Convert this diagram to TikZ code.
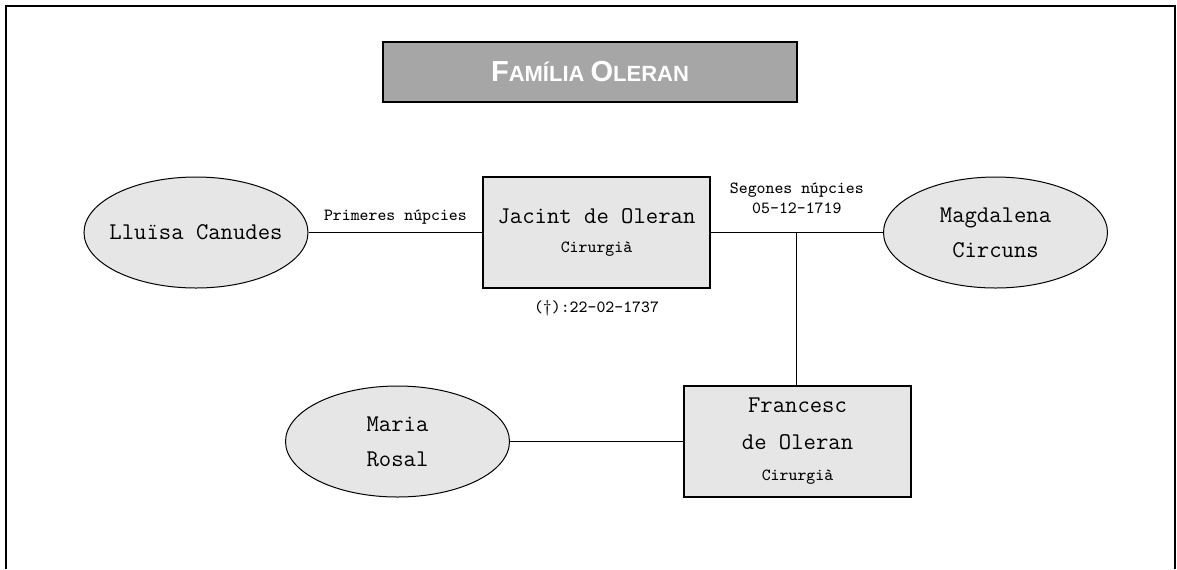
\documentclass[tikz,border=0pt]{standalone}
\usepackage{fontspec}
\newfontfamily\titlefont{Liberation Sans}
\usetikzlibrary{shapes.geometric,calc}
\definecolor{boxgray}{RGB}{230,230,230}
\definecolor{titlegray}{RGB}{166,166,166}
\newcommand{\namesize}{\ttfamily\fontsize{12}{17.5}\selectfont}
\newcommand{\notesize}{\ttfamily\fontsize{8.5}{10}\selectfont}
\newcommand{\titlebig}{\fontsize{14.5}{17}\selectfont}
\newcommand{\titlesmall}{\fontsize{11}{17}\selectfont}
\begin{document}
\begin{tikzpicture}[x=0.5pt,y=-0.5pt,
	person/.style={draw, line width=0.7pt, fill=boxgray, minimum width=113.5pt, minimum height=55.5pt, align=center, inner sep=0pt, font=\namesize},
	spouse/.style={ellipse, draw, line width=0.5pt, fill=boxgray, minimum width=112pt, minimum height=55.5pt, align=center, inner xsep=-5pt, inner ysep=0pt, font=\namesize},
	tag/.style={font=\notesize, align=center, inner sep=0pt},
	link/.style={line width=0.5pt}]
	\useasboundingbox (0,0) rectangle (1177,569);
	\draw[line width=0.75pt] (6,569) -- (6,6) -- (1175,6) -- (1175,569);
	\node[draw, line width=1.4pt, fill=titlegray, minimum width=207pt, minimum height=30pt, text=white, font=\titlefont\bfseries] (title) at (590,72) {\titlebig F\titlesmall AMÍLIA \titlebig O\titlesmall LERAN};
	\node[spouse] (lluisa) at (196,232.5) {Lluïsa Canudes};
	\node[person] (jacint) at (596.5,232.5) {Jacint de Oleran\\[-3pt]\notesize Cirurgià};
	\node[spouse] (magdalena) at (995.5,232.5) {Magdalena\\Circuns};
	\node[spouse] (maria) at (397.5,441.5) {Maria\\Rosal};
	\node[person] (francesc) at (797.5,441.5) {Francesc\\[1pt]de Oleran\\[-2pt]\notesize Cirurgià};
	\draw[link] (lluisa) -- (jacint);
	\draw[link] (jacint) -- (magdalena);
	\coordinate (wed) at ($(jacint.east)!0.5!(magdalena.west)$);
	\draw[link] (wed) -- (wed |- francesc.north);
	\draw[link] (maria) -- (francesc);
	\node[tag] (first) at ($(lluisa.east)!0.5!(jacint.west)+(0,-15)$) {Primeres núpcies};
	\node[tag] (second) at ($(wed)+(0,-34)$) {Segones núpcies\\05-12-1719};
	\node[tag] (death) at ($(jacint.south)+(0,20)$) {(†):22-02-1737};
\end{tikzpicture}
\end{document}
